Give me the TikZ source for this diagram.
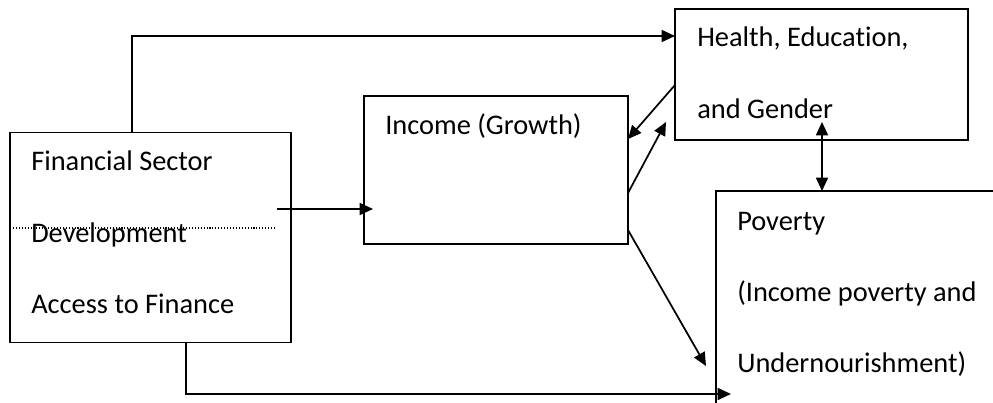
\documentclass[tikz,border=0pt]{standalone}
\usepackage{fontspec}
\setmainfont[Ligatures=NoCommon]{Carlito}
\usetikzlibrary{arrows.meta,calc}
\begin{document}
\begin{tikzpicture}[x=0.75pt,y=-0.75pt,
  box/.style={draw, line width=1.3pt, inner sep=0pt, outer sep=0pt, rectangle},
  txt/.style={anchor=base west, inner sep=0pt, font=\fontsize{21.3}{26}\selectfont},
  link/.style={line width=1.3pt, -{Triangle[length=10pt,width=9pt]}},
  dlink/.style={line width=1.3pt, {Triangle[length=10pt,width=9pt]}-{Triangle[length=10pt,width=9pt]}},
  dotline/.style={line width=0.8pt, dash pattern=on 0.8pt off 1.4pt}]
\useasboundingbox (0,0) rectangle (993,403);
\clip (0,0) rectangle (993,403);
% boxes
\node[box, minimum width=210.75pt, minimum height=157.5pt] (fsd) at (150.5,237.5) {};
\node[box, minimum width=198pt, minimum height=111pt] (inc) at (496,170) {};
\node[box, minimum width=219.75pt, minimum height=98.25pt] (heg) at (821.5,74.5) {};
\node[box, minimum width=220.5pt, minimum height=179.25pt] (pov) at (863,310.5) {};
% texts
\node[txt] (f1) at (31,171) {Financial Sector};
\node[txt] (f2) at (31,242) {Development};
\node[txt] (f3) at (31,313) {Access to Finance};
\node[txt] (i1) at (385,135) {Income (Growth)};
\node[txt] (h1) at (697,47) {Health, Education,};
\node[txt] (h2) at (697,118) {and Gender};
\node[txt] (p1) at (737,230) {Poverty};
\node[txt] (p2) at (737,301) {(Income poverty and};
\node[txt] (p3) at (737,372) {Undernourishment)};
% dotted line
\coordinate (d1) at (276,228);
\draw[dotline] (fsd.west |- d1) -- (d1);
% connectors
\coordinate (c1) at (132,36);
\draw[link] (fsd.north -| c1) -- (c1) -- (heg.west |- c1);
\coordinate (a1) at (277,209);
\coordinate (a2) at (373,209);
\draw[link] (a1) -- (a2);
\draw[link] ($(heg.north west)+(0,76)$) -- ($(inc.north east)+(0,43)$);
\draw[link] ($(inc.north east)+(0,97)$) -- ($(heg.north west)+(-9,113)$);
\draw[link] ($(inc.north east)+(0,134)$) -- ($(pov.north west)+(-10,175)$);
\coordinate (v1) at (822,122);
\draw[dlink] (v1) -- (pov.north -| v1);
\coordinate (b1) at (186,394);
\coordinate (b2) at (731,394);
\draw[link] (fsd.south -| b1) -- (b1) -- (b2);
\end{tikzpicture}
\end{document}
